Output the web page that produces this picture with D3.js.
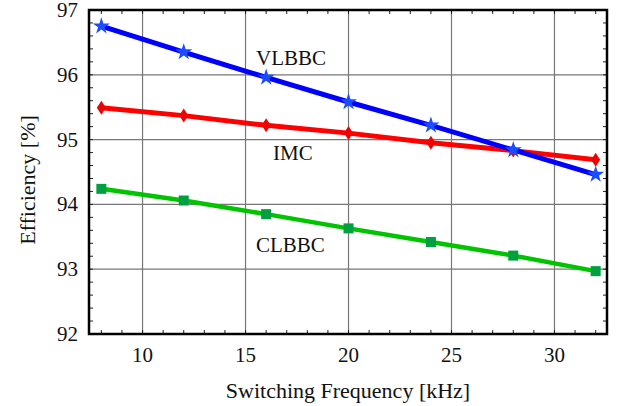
<!DOCTYPE html>
<html>
<head>
<meta charset="utf-8">
<script src="https://cdn.jsdelivr.net/npm/d3@7"></script>
<style>
  body { margin: 0; background: #fff; }
  svg text { font-family: "Liberation Serif", "Times New Roman", serif; fill: #111; }
</style>
</head>
<body>
<div id="chart"></div>
<script>
// switching frequency [kHz]
var freq = [8, 12, 16, 20, 24, 28, 32];
// efficiency [%]
var vlbbc = [96.75, 96.35, 95.96, 95.58, 95.22, 94.84, 94.46];
var imc = [95.49, 95.37, 95.22, 95.10, 94.95, 94.83, 94.69];
var clbbc = [94.24, 94.06, 93.85, 93.63, 93.42, 93.21, 92.97];

var xTicks = [10, 15, 20, 25, 30];
var yTicks = [92, 93, 94, 95, 96, 97];

var width = 618, height = 406;
var pLeft = 89, pRight = 607, pTop = 10, pBottom = 334;

var svg = d3.select("#chart").append("svg")
    .attr("width", width)
    .attr("height", height);

var x = d3.scaleLinear().domain([7.4, 32.55]).range([pLeft, pRight]);
var y = d3.scaleLinear().domain([92, 97]).range([pBottom, pTop]);

// grid
svg.append("g").selectAll("line")
    .data(xTicks)
    .enter().append("line")
    .attr("x1", d => x(d)).attr("x2", d => x(d))
    .attr("y1", pTop).attr("y2", pBottom)
    .attr("stroke", "#777").attr("stroke-width", 1.2);

svg.append("g").selectAll("line")
    .data(yTicks.slice(1, -1))
    .enter().append("line")
    .attr("x1", pLeft).attr("x2", pRight)
    .attr("y1", d => y(d)).attr("y2", d => y(d))
    .attr("stroke", "#777").attr("stroke-width", 1.2);

// minor ticks (inside, all four sides)
var xMinor = d3.range(8, 33, 1);
var yMinor = d3.range(92.2, 97, 0.2);
var tk = svg.append("g").attr("stroke", "#222").attr("stroke-width", 1);
xMinor.forEach(function(v) {
    tk.append("line").attr("x1", x(v)).attr("x2", x(v)).attr("y1", pBottom).attr("y2", pBottom - 4);
    tk.append("line").attr("x1", x(v)).attr("x2", x(v)).attr("y1", pTop).attr("y2", pTop + 4);
});
yMinor.forEach(function(v) {
    tk.append("line").attr("x1", pLeft).attr("x2", pLeft + 4).attr("y1", y(v)).attr("y2", y(v));
    tk.append("line").attr("x1", pRight).attr("x2", pRight - 4).attr("y1", y(v)).attr("y2", y(v));
});

// frame
svg.append("rect")
    .attr("x", pLeft).attr("y", pTop)
    .attr("width", pRight - pLeft).attr("height", pBottom - pTop)
    .attr("fill", "none").attr("stroke", "#000").attr("stroke-width", 2.5);

// tick labels
svg.append("g").selectAll("text")
    .data(xTicks)
    .enter().append("text")
    .attr("x", d => x(d)).attr("y", 362)
    .attr("text-anchor", "middle")
    .attr("font-size", 21)
    .text(d => d);

svg.append("g").selectAll("text")
    .data(yTicks)
    .enter().append("text")
    .attr("x", 78).attr("y", d => y(d) + 7)
    .attr("text-anchor", "end")
    .attr("font-size", 21)
    .text(d => d);

// axis titles
svg.append("text")
    .attr("x", 348).attr("y", 398)
    .attr("text-anchor", "middle")
    .attr("font-size", 22)
    .text("Switching Frequency [kHz]");

svg.append("text")
    .attr("transform", "translate(35,180) rotate(-90)")
    .attr("text-anchor", "middle")
    .attr("font-size", 22)
    .text("Efficiency [%]");

var line = d3.line()
    .x(d => x(d[0]))
    .y(d => y(d[1]));

function series(vals) {
    return freq.map((f, i) => [f, vals[i]]);
}

// CLBBC
svg.append("path")
    .datum(series(clbbc))
    .attr("d", line)
    .attr("fill", "none").attr("stroke", "#00c400").attr("stroke-width", 4.5);
svg.append("g").selectAll("rect")
    .data(series(clbbc))
    .enter().append("rect")
    .attr("x", d => x(d[0]) - 5).attr("y", d => y(d[1]) - 5)
    .attr("width", 10).attr("height", 10)
    .attr("fill", "#00a040");

// IMC
svg.append("path")
    .datum(series(imc))
    .attr("d", line)
    .attr("fill", "none").attr("stroke", "#ff0000").attr("stroke-width", 5);
svg.append("g").selectAll("path")
    .data(series(imc))
    .enter().append("path")
    .attr("d", "M0,-7L4.5,0L0,7L-4.5,0Z")
    .attr("transform", d => "translate(" + x(d[0]) + "," + y(d[1]) + ")")
    .attr("fill", "#f00000");

// VLBBC
svg.append("path")
    .datum(series(vlbbc))
    .attr("d", line)
    .attr("fill", "none").attr("stroke", "#0000ff").attr("stroke-width", 5);
svg.append("g").selectAll("path")
    .data(series(vlbbc))
    .enter().append("path")
    .attr("d", d3.symbol().type(d3.symbolStar).size(90))
    .attr("transform", d => "translate(" + x(d[0]) + "," + y(d[1]) + ")")
    .attr("fill", "#1a4dff");

// curve labels
svg.append("text").attr("x", 256).attr("y", 65).attr("font-size", 21).text("VLBBC");
svg.append("text").attr("x", 273).attr("y", 160).attr("font-size", 21).text("IMC");
svg.append("text").attr("x", 256).attr("y", 252).attr("font-size", 21).text("CLBBC");
</script>
</body>
</html>
